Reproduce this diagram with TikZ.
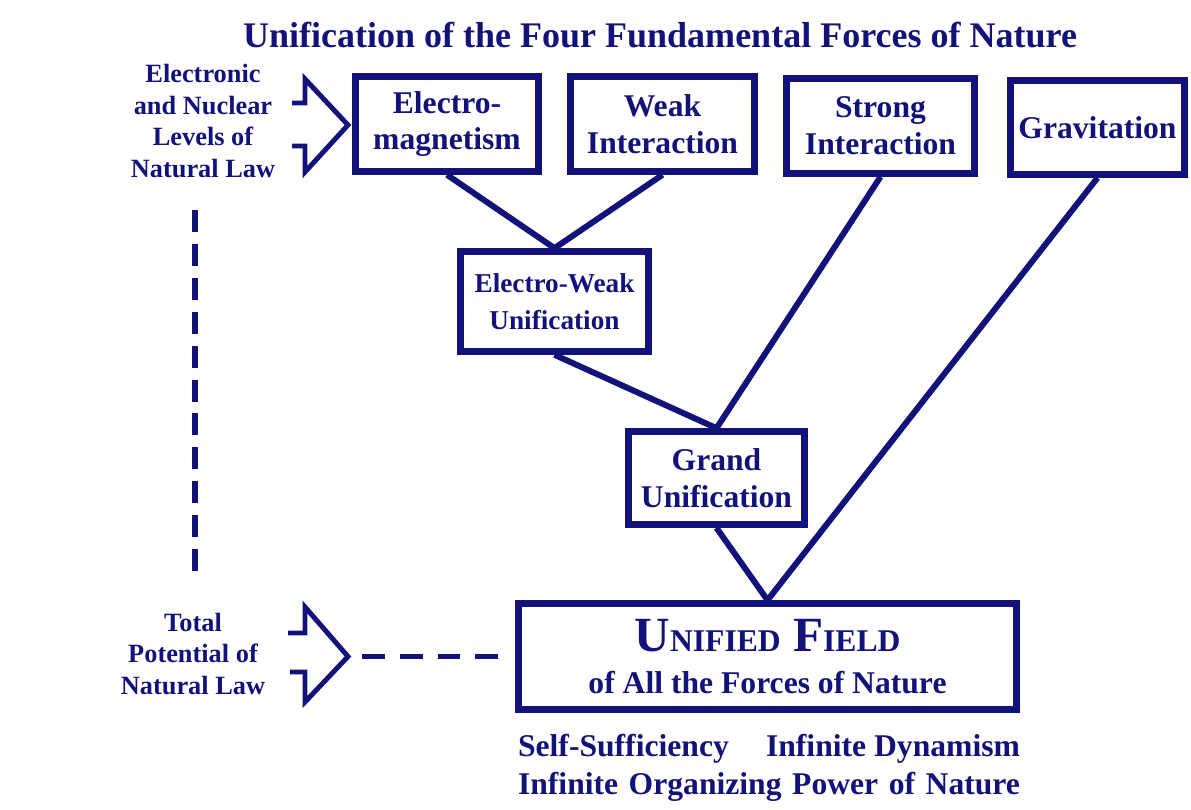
\documentclass[tikz,border=0pt]{standalone}
\usepackage{fontspec}
\setmainfont{Liberation Serif}
\usepackage{tikz}
\usetikzlibrary{positioning}
\definecolor{inkblue}{RGB}{18, 18, 122}

\begin{document}
\begin{tikzpicture}[
    x=0.02cm, y=-0.02cm,
    force/.style={draw=inkblue, line width=3.8pt, inner sep=0pt, align=center, text=inkblue,
        font=\bfseries\fontsize{18}{21}\selectfont},
    link/.style={draw=inkblue, line width=3.4pt},
    levelarrow/.style={draw=inkblue, line width=2.8pt, line join=miter},
    label/.style={text=inkblue, align=center, font=\bfseries\fontsize{15}{18}\selectfont}
]
    \useasboundingbox (0,0) rectangle (1191,809);

    % Title
    \node[text=inkblue, font=\bfseries\fontsize{20.5}{24}\selectfont] (title) at (660,35)
        {Unification of the Four Fundamental Forces of Nature};

    % The four forces
    \node[force, minimum width=3.66cm, minimum height=1.90cm] (em) at (447,124) {Electro-\\magnetism};
    \node[force, minimum width=3.68cm, minimum height=1.90cm] (weak) at (662.5,124) {Weak\\Interaction};
    \node[force, minimum width=3.76cm, minimum height=1.90cm] (strong) at (880.5,126) {Strong\\Interaction};
    \node[force, minimum width=3.48cm, minimum height=1.88cm] (grav) at (1097.5,127.5) {Gravitation};

    % Unifications
    \node[force, minimum width=3.76cm, minimum height=2.0cm,
        font=\bfseries\fontsize{15.5}{21}\selectfont] (ew) at (554.5,301.5) {Electro-Weak\\Unification};
    \node[force, minimum width=3.52cm, minimum height=1.86cm] (gu) at (716.5,478) {Grand\\Unification};
    \node[force, minimum width=9.96cm, minimum height=2.12cm, font=\bfseries\fontsize{28}{24}\selectfont] (uf) at (767.5,656.5)
        {U{\fontsize{18}{18}\selectfont NIFIED} F{\fontsize{18}{18}\selectfont IELD}\\
         {\fontsize{18}{21}\selectfont of All the Forces of Nature}};

    % Connections
    \draw[link] (em.south) -- (ew.north);
    \draw[link] (weak.south) -- (ew.north);
    \draw[link] (ew.south) -- (gu.north);
    \draw[link] (strong.south) -- (gu.north);
    \draw[link] (gu.south) -- (uf.north);
    \draw[link] (grav.south) -- (uf.north);

    % Qualities
    \node[text=inkblue, align=center, font=\bfseries\fontsize{18}{22}\selectfont] (qual) at (769,768)
        {\makebox[10.04cm][s]{Self-Sufficiency\hfill Infinite Dynamism}\\
         \makebox[10.04cm][s]{Infinite Organizing Power of Nature}};

    % Levels of natural law
    \node[label] (levels) at (203,121) {Electronic\\and Nuclear\\Levels of\\Natural Law};
    \node[label] (total) at (193,654) {Total\\Potential of\\Natural Law};

    \draw[levelarrow] (292,103) -- (305,103) -- (305,79) -- (348,125) coordinate (tipa)
        -- (305,172) -- (305,146) -- (292,146);
    \draw[levelarrow] (288,633) -- (305,633) -- (305,607) -- (348,656.5) coordinate (tipb)
        -- (305,702) -- (305,672) -- (290,672);

    \coordinate (vtop) at (195,210);
    \coordinate (vbot) at (195,575);
    \draw[draw=inkblue, line width=3.4pt, dash pattern=on 12.5pt off 6.8pt] (vtop) -- (vbot);
    \draw[draw=inkblue, line width=2.3pt, dash pattern=on 13pt off 8.5pt,
        shorten <=8pt, shorten >=7.7pt] (tipb) -- (tipb -| uf.west);

\end{tikzpicture}
\end{document}
